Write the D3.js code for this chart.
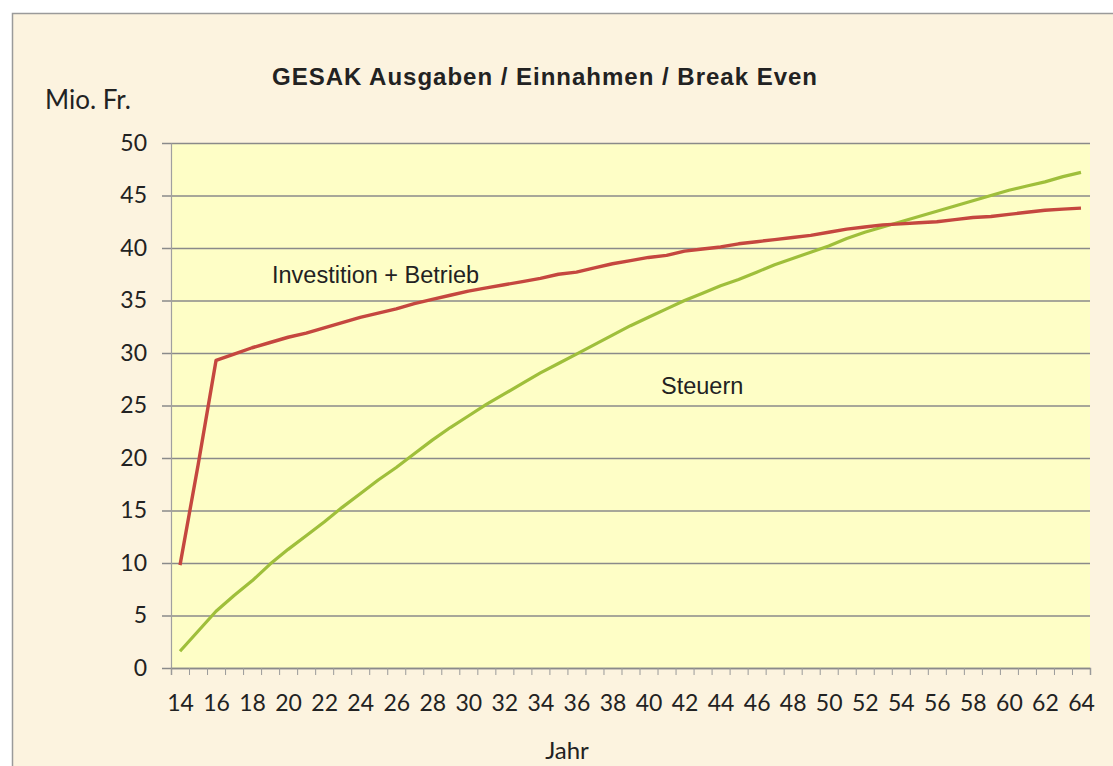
<!DOCTYPE html>
<html><head><meta charset="utf-8">
<script src="https://cdn.jsdelivr.net/npm/d3@7"></script>
<style>
html,body{margin:0;padding:0;background:#fff;}
svg{display:block;}
</style></head>
<body>
<svg id="chart" width="1113" height="766"></svg>
<script>
const years = d3.range(14, 65);
const investitionBetrieb = [9.8,19.3,29.3,29.9,30.5,31.0,31.5,31.9,32.4,32.9,33.4,33.8,34.2,34.7,35.1,35.5,35.9,36.2,36.5,36.8,37.1,37.5,37.7,38.1,38.5,38.8,39.1,39.3,39.7,39.9,40.1,40.4,40.6,40.8,41.0,41.2,41.5,41.8,42.0,42.2,42.3,42.4,42.5,42.7,42.9,43.0,43.2,43.4,43.6,43.7,43.8];
const steuern = [1.6,3.5,5.4,6.9,8.3,9.9,11.3,12.6,13.9,15.3,16.6,17.9,19.1,20.4,21.7,22.9,24.0,25.1,26.1,27.1,28.1,29.0,29.9,30.8,31.7,32.6,33.4,34.2,35.0,35.7,36.4,37.0,37.7,38.4,39.0,39.6,40.2,40.9,41.5,42.0,42.5,43.0,43.5,44.0,44.5,45.0,45.5,45.9,46.3,46.8,47.2];
const yTicks = [0,5,10,15,20,25,30,35,40,45,50];
const xLabelYears = d3.range(14, 65, 2);
const title = "GESAK Ausgaben / Einnahmen / Break Even";
const yTitle = "Mio. Fr.";
const xTitle = "Jahr";
const seriesLabels = ["Investition + Betrieb", "Steuern"];

const svg = d3.select("#chart");
const L = 171, R = 1090, T = 143, B = 668;

svg.append("rect").attr("x",0).attr("y",0).attr("width",1113).attr("height",766).attr("fill","#ffffff");
svg.append("rect").attr("x",12.5).attr("y",13.5).attr("width",1120).attr("height",800)
  .attr("fill","#fcf3df").attr("stroke","#9a9a9a").attr("stroke-width",1.5);

const x = d3.scaleLinear().domain([13.5, 64.5]).range([L, R]);
const y = d3.scaleLinear().domain([0, 50]).range([B, T]);

svg.append("rect").attr("x",L).attr("y",T).attr("width",R-L).attr("height",B-T).attr("fill","#fefec6");

// gridlines
const grid = svg.append("g").attr("transform",`translate(${R},0)`)
  .call(d3.axisLeft(y).tickValues(yTicks).tickSize(R-162).tickFormat(""));
grid.select(".domain").remove();
grid.selectAll("line").attr("stroke","#8a8a8a").attr("stroke-width",1.4);

// y axis
const yAxis = svg.append("g").attr("transform",`translate(${L},0)`)
  .call(d3.axisLeft(y).tickValues(yTicks).tickSize(0).tickPadding(24));
yAxis.select(".domain").attr("stroke","#a0a0a0").attr("stroke-width",1.2);
yAxis.selectAll("text").attr("font-family","Lato").attr("font-size",23).attr("fill","#222");

// x axis ticks at category boundaries
const xTickAxis = svg.append("g").attr("transform",`translate(0,${B})`)
  .call(d3.axisBottom(x).tickValues(d3.range(13.5, 65, 1)).tickSize(7).tickFormat(""));
xTickAxis.select(".domain").attr("stroke","#8a8a8a").attr("stroke-width",1.4);
xTickAxis.selectAll("line").attr("stroke","#9a9a9a").attr("stroke-width",1);

const xLabelAxis = svg.append("g").attr("transform",`translate(0,${B})`)
  .call(d3.axisBottom(x).tickValues(xLabelYears).tickSize(0).tickPadding(27).tickFormat(d3.format("d")));
xLabelAxis.select(".domain").remove();
xLabelAxis.selectAll("text").attr("font-family","Lato").attr("font-size",23).attr("fill","#222");

// lines
const line = d3.line().x((d,i)=>x(years[i])).y(d=>y(d));
svg.append("path").datum(steuern).attr("d",line).attr("fill","none")
  .attr("stroke","#9fbf3b").attr("stroke-width",3.2).attr("stroke-linejoin","round");
svg.append("path").datum(investitionBetrieb).attr("d",line).attr("fill","none")
  .attr("stroke","#c5473f").attr("stroke-width",3.4).attr("stroke-linejoin","round");

// texts
svg.append("text").attr("x",272).attr("y",85).attr("font-family","Liberation Sans, Arial").attr("font-weight","bold")
  .attr("font-size",24).attr("fill","#222").attr("textLength",545).attr("lengthAdjust","spacing").text(title);
svg.append("text").attr("x",45).attr("y",109).attr("font-family","Lato").attr("font-size",26).attr("fill","#222").text(yTitle);
svg.append("text").attr("x",567).attr("y",759).attr("text-anchor","middle").attr("font-family","Lato").attr("font-size",24).attr("fill","#222").text(xTitle);
svg.append("text").attr("x",272).attr("y",283).attr("font-family","Liberation Sans, Arial").attr("font-size",23.5).attr("fill","#222").text(seriesLabels[0]);
svg.append("text").attr("x",661).attr("y",394).attr("font-family","Liberation Sans, Arial").attr("font-size",23.5).attr("fill","#222").text(seriesLabels[1]);
</script>
</body></html>
